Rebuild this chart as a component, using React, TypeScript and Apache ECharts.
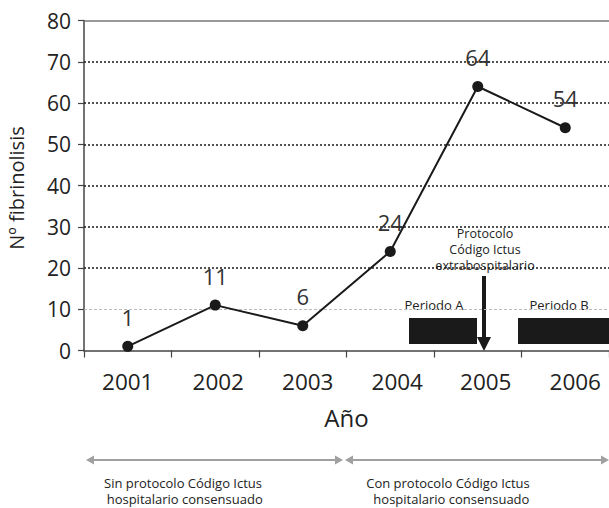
import React, { useEffect, useRef } from "react";
import * as echarts from "echarts";

const years = ["2001", "2002", "2003", "2004", "2005", "2006"];
const fibrinolisis = [1, 11, 6, 24, 64, 54];
const dottedGridValues = [20, 30, 40, 50, 60, 70];
const lightGridValues = [10];
const topGridValues = [80];
// small rightward nudges of the year labels seen in the reference (styling only)
const yearLabelNudge = [0, 3, 5, 7, 8, 10];

const FONT = "'Open Sans', 'Noto Sans', sans-serif";

export default function App() {
  const ref = useRef<HTMLDivElement>(null);
  useEffect(() => {
    if (!ref.current) return;
    const chart = echarts.init(ref.current, null, { renderer: "svg" });
    const markLineData: any[] = [
      ...dottedGridValues.map((v) => ({
        yAxis: v,
        lineStyle: { color: "#1a1a1a", type: [2, 2], width: 1.6 },
      })),
      ...lightGridValues.map((v) => ({
        yAxis: v,
        lineStyle: { color: "#bbb", type: [3, 2], width: 1 },
      })),
      ...topGridValues.map((v) => ({
        yAxis: v,
        lineStyle: { color: "#777", type: "solid", width: 1.6 },
      })),
    ];
    const grayArrow = "#a0a0a0";
    const txt = (text: string, x: number, y: number, fontSize: number, extra: any = {}, el: any = {}) => ({
      type: "text",
      x,
      y,
      ...el,
      style: {
        text,
        fontSize,
        fill: "#222",
        align: "center",
        verticalAlign: "middle",
        fontFamily: FONT,
        ...extra,
      },
    });
    chart.setOption({
      animation: false,
      textStyle: { fontFamily: FONT },
      grid: { left: 84, right: 0, top: 20.5, bottom: 157.5, containLabel: false },
      xAxis: {
        type: "category",
        data: years.map((y, i) => ({
          value: y,
          textStyle: { padding: [0, 0, 0, 2 * yearLabelNudge[i]] },
        })),
        boundaryGap: true,
        name: "Año",
        nameLocation: "middle",
        nameGap: 55,
        nameTextStyle: { fontSize: 24, color: "#222", fontFamily: FONT },
        axisLine: { show: true, lineStyle: { color: "#444", width: 1.5 } },
        axisTick: { show: true, length: 7, interval: 0, lineStyle: { color: "#444", width: 1.2 } },
        axisLabel: { fontSize: 22.5, color: "#222", margin: 19, fontFamily: FONT, interval: 0 },
        splitLine: { show: false },
      },
      yAxis: {
        type: "value",
        min: 0,
        max: 80,
        interval: 10,
        axisLine: { show: true, lineStyle: { color: "#444", width: 1.5 } },
        axisTick: { show: true, length: 6, lineStyle: { color: "#444", width: 1.2 } },
        axisLabel: { fontSize: 21, color: "#222", margin: 13, fontFamily: FONT },
        splitLine: { show: false },
      },
      series: [
        {
          type: "line",
          data: fibrinolisis,
          symbol: "circle",
          symbolSize: 11,
          itemStyle: { color: "#1a1a1a" },
          lineStyle: { color: "#1a1a1a", width: 2 },
          label: {
            show: true,
            position: "top",
            distance: 13,
            fontSize: 22,
            color: "#333",
            fontFamily: FONT,
          },
          markLine: {
            silent: true,
            symbol: "none",
            label: { show: false },
            data: markLineData,
            z: 1,
          },
          z: 5,
        },
      ],
      graphic: [
        // Y axis title
        txt("Nº fibrinolisis", 16, 188, 20, {}, { rotation: Math.PI / 2 }),
        // Period rectangles
        { type: "rect", shape: { x: 409, y: 318, width: 68, height: 26 }, style: { fill: "#1a1a1a" } },
        { type: "rect", shape: { x: 518, y: 318, width: 91, height: 26 }, style: { fill: "#1a1a1a" } },
        txt("Periodo A", 434, 305, 13),
        txt("Periodo B", 559, 305, 13),
        // Protocol annotation
        txt("Protocolo\nCódigo Ictus\nextrabospitalario", 485, 249, 12.5, { lineHeight: 16 }),
        { type: "line", shape: { x1: 484, y1: 276, x2: 484, y2: 340 }, style: { stroke: "#1a1a1a", lineWidth: 4 } },
        { type: "polygon", shape: { points: [[477, 337], [491, 337], [484, 351]] }, style: { fill: "#1a1a1a" } },
        // Bottom range arrows
        { type: "line", shape: { x1: 92, y1: 460, x2: 337, y2: 460 }, style: { stroke: grayArrow, lineWidth: 2 } },
        { type: "polygon", shape: { points: [[86, 460], [94, 455.5], [94, 464.5]] }, style: { fill: grayArrow } },
        { type: "polygon", shape: { points: [[343, 460], [335, 455.5], [335, 464.5]] }, style: { fill: grayArrow } },
        { type: "line", shape: { x1: 351, y1: 460, x2: 603, y2: 460 }, style: { stroke: grayArrow, lineWidth: 2 } },
        { type: "polygon", shape: { points: [[345, 460], [353, 455.5], [353, 464.5]] }, style: { fill: grayArrow } },
        { type: "polygon", shape: { points: [[609, 460], [601, 455.5], [601, 464.5]] }, style: { fill: grayArrow } },
        txt("Sin protocolo Código Ictus\n hospitalario consensuado", 183, 490.5, 13, { lineHeight: 16 }),
        txt("Con protocolo Código Ictus\n  hospitalario consensuado", 448, 490.5, 13, { lineHeight: 16 }),
      ],
    });
    return () => chart.dispose();
  }, []);
  return (
    <div
      ref={ref}
      style={{ position: "fixed", left: 0, top: 0, width: 609, height: 508, background: "#fff" }}
    />
  );
}
